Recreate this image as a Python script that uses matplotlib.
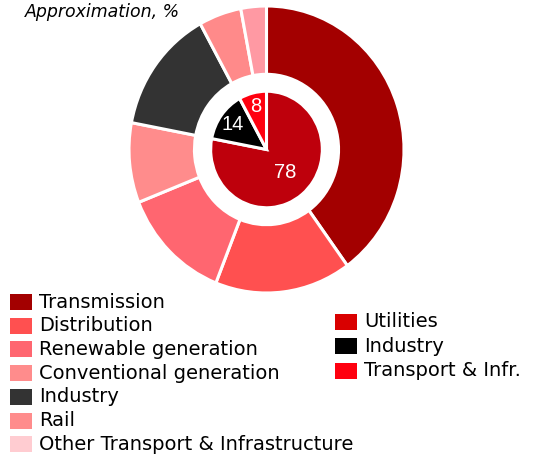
import numpy as np
import matplotlib
matplotlib.use("Agg")
import matplotlib.pyplot as plt
from matplotlib.patches import Rectangle

# Segment breakdown (outer ring) and market split (inner pie), in %
segments = ["Transmission", "Distribution", "Renewable generation",
            "Conventional generation", "Industry", "Rail",
            "Other Transport & Infrastructure"]
segment_values = [40, 16, 13, 9, 14, 5, 3]
segment_colors = ["#A30000", "#FF5050", "#FF6670", "#FF8C8C", "#333333",
                  "#FF8A8A", "#FF99A3"]
segment_legend_colors = ["#A30000", "#FF5050", "#FF6670", "#FF8C8C",
                         "#333333", "#FF8C8C", "#FFCCD1"]

markets = ["Utilities", "Industry", "Transport & Infr."]
market_values = [78, 14, 8]
market_colors = ["#BE000C", "#000000", "#FF000F"]
market_legend_colors = ["#D90000", "#000000", "#FF000F"]

W, H = 545, 457
fig = plt.figure(figsize=(W / 100, H / 100), dpi=100)
FONT = "DejaVu Sans"

# pie axes: centre (266.5,149.5) px, radii 137.5 x 143.5 px
cx, cy, RX, RY = 266.5, 149.5, 137.5, 143.5
ax = fig.add_axes([(cx - RX) / W, (H - cy - RY) / H, 2 * RX / W, 2 * RY / H])

ax.pie(segment_values, colors=segment_colors, radius=1.0, startangle=90,
       counterclock=False,
       wedgeprops=dict(width=0.476, edgecolor="white", linewidth=2.2))

r_in = 0.406
ax.pie(market_values, colors=market_colors, radius=r_in, startangle=90,
       counterclock=False,
       wedgeprops=dict(edgecolor="white", linewidth=2.2))
ax.set_aspect("auto")
ax.set_xlim(-1, 1)
ax.set_ylim(-1, 1)
ax.axis("off")

# value labels inside the inner pie
label_r = [0.21, 0.30, 0.31]
start = 90.0
total = sum(market_values)
for v, lr in zip(market_values, label_r):
    sweep = 360.0 * v / total
    mid = np.deg2rad(start - sweep / 2)
    ax.text(lr * np.cos(mid), lr * np.sin(mid), str(v), color="white",
            fontsize=14.5, family="Liberation Sans", ha="center", va="center")
    start -= sweep

fig.text(25 / W, 1 - 12 / H, "Approximation, %", family=FONT, style="italic",
         fontsize=12.5, ha="left", va="center")


def legend_column(labels, colors, x0, y0, dy):
    for i, (lab, col) in enumerate(zip(labels, colors)):
        y = y0 + i * dy
        fig.patches.append(Rectangle((x0 / W, 1 - (y + 8) / H), 22 / W, 16 / H,
                                     transform=fig.transFigure, facecolor=col,
                                     edgecolor="none"))
        fig.text((x0 + 29) / W, 1 - y / H, lab, family=FONT, fontsize=14,
                 ha="left", va="center")


legend_column(segments, segment_legend_colors, 10, 302, 23.7)
legend_column(markets, market_legend_colors, 335, 321.5, 24.5)

fig.savefig("out.png", dpi=100)
